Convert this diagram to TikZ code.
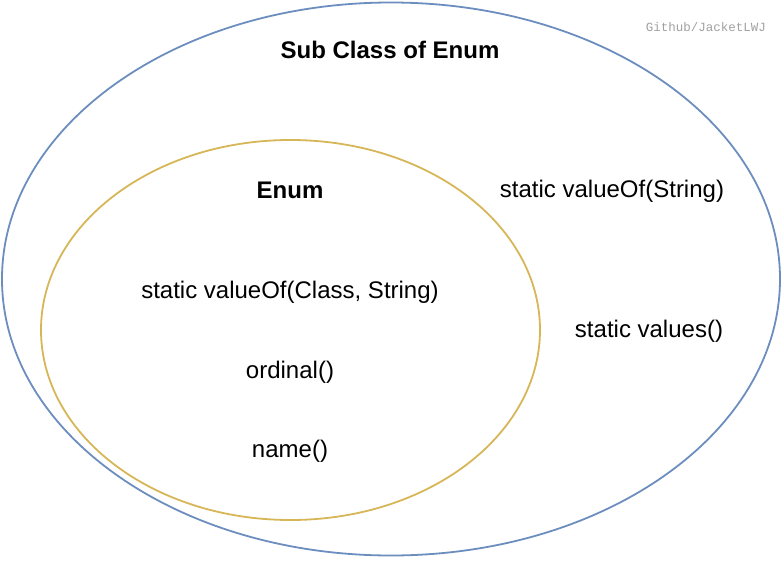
\documentclass[tikz,border=0pt]{standalone}
\usepackage{fontspec}
\setmainfont{Liberation Sans}
\newfontfamily\wmfont{Liberation Mono}
\usetikzlibrary{shapes.geometric}
\definecolor{outerblue}{HTML}{6C8EBF}
\definecolor{inneryellow}{HTML}{D6B656}
\definecolor{wmgray}{HTML}{A0A0A0}
\tikzset{
  setellipse/.style={ellipse, draw=#1, line width=1.8pt, inner sep=0pt},
  label24/.style={font=\fontsize{24}{28}\selectfont, inner sep=0pt, anchor=center},
  bold24/.style={font=\fontsize{24}{28}\selectfont\bfseries, inner sep=0pt, anchor=center},
}
\begin{document}
\begin{tikzpicture}[x=1pt,y=-1pt]
\useasboundingbox (0,0) rectangle (782,562);
\node[setellipse=outerblue, minimum width=778pt, minimum height=553pt] (outer) at (391,279) {};
\node[setellipse=inneryellow, minimum width=499pt, minimum height=380pt] (inner) at (290.5,330) {};
\node[bold24] (subclass) at (390,50) {Sub Class of Enum};
\node[bold24] (enum) at (290,190) {Enum};
\node[label24] (valueofstr) at (612,191) {static valueOf(String)};
\node[label24] (valueofcls) at (290,292) {static valueOf(Class, String)};
\node[label24] (values) at (649,331) {static values()};
\node[label24] (ordinal) at (290,372) {ordinal()};
\node[label24] (name) at (290,451) {name()};
\node[font=\wmfont\fontsize{12.5}{14}\selectfont, text=wmgray, inner sep=0pt] (wm) at (706,27) {Github/JacketLWJ};
\end{tikzpicture}
\end{document}
